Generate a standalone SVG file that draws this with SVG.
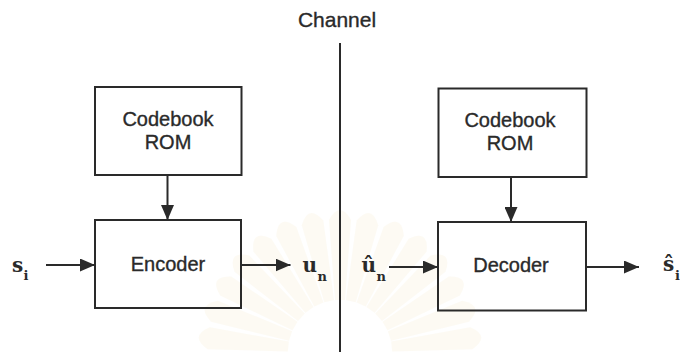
<svg xmlns="http://www.w3.org/2000/svg" xmlns:xlink="http://www.w3.org/1999/xlink" width="680" height="352" viewBox="0 0 680 352">
  <defs>
    <style>
      .box { fill: none; stroke: #2a2a2a; stroke-width: 2; }
      .lbl { font-family: "Liberation Sans", Arial, sans-serif; font-size: 20px; fill: #2a2a2a; stroke: #2a2a2a; stroke-width: 0.35; text-anchor: middle; }
      .sym { font-family: "DejaVu Serif", "Liberation Serif", serif; font-weight: bold; font-size: 20px; fill: #2a2a2a; }
      .sub { font-family: "DejaVu Serif", "Liberation Serif", serif; font-weight: bold; font-size: 13px; fill: #2a2a2a; }
      .wire { fill: none; stroke: #2a2a2a; stroke-width: 2; }
      .ray { fill: url(#rayFill); }
    </style>
    <marker id="arrow" viewBox="0 0 15 13" refX="15" refY="6.5" markerWidth="15" markerHeight="13" orient="auto" markerUnits="userSpaceOnUse">
      <path d="M0,0 L15,6.5 L0,13 Z" fill="#2a2a2a"/>
    </marker>
    <radialGradient id="rayFill" gradientUnits="userSpaceOnUse" cx="340" cy="352" r="155">
      <stop offset="0.3" stop-color="#f4dc98"/>
      <stop offset="0.6" stop-color="#f8edcc"/>
      <stop offset="1" stop-color="#fcf7ea"/>
    </radialGradient>
    <path id="ray" d="M-5,-52 L-11,-132 Q0,-152 11,-132 L5,-52 Z"/>
  </defs>

  <rect width="680" height="352" fill="#ffffff"/>

  <!-- faint emblem behind the channel line -->
  <g id="emblem" opacity="0.55">
    <g transform="translate(340,352)" class="ray">
      <use xlink:href="#ray" transform="rotate(-84)"/>
      <use xlink:href="#ray" transform="rotate(-72)"/>
      <use xlink:href="#ray" transform="rotate(-60)"/>
      <use xlink:href="#ray" transform="rotate(-48)"/>
      <use xlink:href="#ray" transform="rotate(-36)"/>
      <use xlink:href="#ray" transform="rotate(-24)"/>
      <use xlink:href="#ray" transform="rotate(-12)"/>
      <use xlink:href="#ray" transform="rotate(0)"/>
      <use xlink:href="#ray" transform="rotate(12)"/>
      <use xlink:href="#ray" transform="rotate(24)"/>
      <use xlink:href="#ray" transform="rotate(36)"/>
      <use xlink:href="#ray" transform="rotate(48)"/>
      <use xlink:href="#ray" transform="rotate(60)"/>
      <use xlink:href="#ray" transform="rotate(72)"/>
      <use xlink:href="#ray" transform="rotate(84)"/>
    </g>
  </g>

  <!-- channel divider -->
  <g id="channel">
    <text class="lbl" x="337" y="26.5" style="font-size:21px">Channel</text>
    <path class="wire" d="M340,43 V352"/>
  </g>

  <g id="codebook-enc">
    <rect class="box" x="95" y="87" width="146.5" height="88"/>
    <text class="lbl" x="168" y="126">Codebook</text>
    <text class="lbl" x="168" y="149">ROM</text>
  </g>

  <g id="encoder">
    <rect class="box" x="95" y="220" width="146" height="88"/>
    <text class="lbl" x="168" y="271">Encoder</text>
  </g>

  <g id="codebook-dec">
    <rect class="box" x="438.5" y="88.5" width="148" height="88.5"/>
    <text class="lbl" x="510" y="127">Codebook</text>
    <text class="lbl" x="510" y="150">ROM</text>
  </g>

  <g id="decoder">
    <rect class="box" x="438" y="222" width="148" height="88.5"/>
    <text class="lbl" x="511" y="272">Decoder</text>
  </g>

  <!-- signal labels -->
  <g id="label-s">
    <text class="sym" x="12" y="271.5">s</text>
    <text class="sub" x="23.5" y="280">i</text>
  </g>
  <g id="label-u">
    <text class="sym" x="302.5" y="272.3">u</text>
    <text class="sub" x="317.5" y="280.7">n</text>
  </g>
  <g id="label-uhat">
    <text class="sym" x="361.5" y="272.3">û</text>
    <text class="sub" x="376.5" y="280.7">n</text>
  </g>
  <g id="label-shat">
    <text class="sym" x="663" y="271">ŝ</text>
    <text class="sub" x="675" y="280">i</text>
  </g>

  <g id="connectors">
    <path class="wire" d="M167.5,175 V220" marker-end="url(#arrow)"/>
    <path class="wire" d="M46,265 H95" marker-end="url(#arrow)"/>
    <path class="wire" d="M241,265 H290.5" marker-end="url(#arrow)"/>
    <path class="wire" d="M511,177 V222" marker-end="url(#arrow)"/>
    <path class="wire" d="M389,267 H438" marker-end="url(#arrow)"/>
    <path class="wire" d="M586,267 H639" marker-end="url(#arrow)"/>
  </g>
</svg>
